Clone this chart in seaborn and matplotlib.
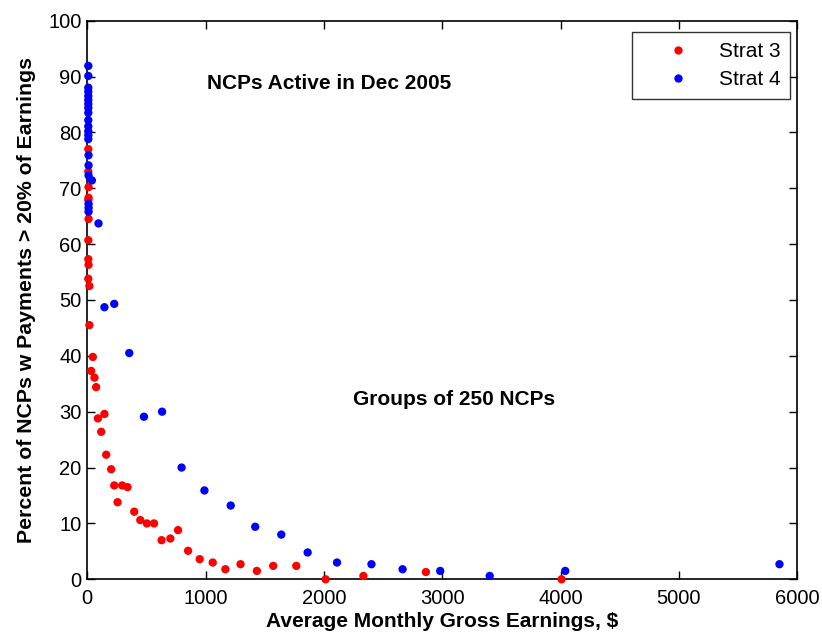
import matplotlib
matplotlib.use("Agg")
import matplotlib.pyplot as plt
import seaborn as sns
import pandas as pd

# Strat 3: average monthly gross earnings ($) vs. percent with payments > 20% of earnings
strat3_x = [10, 10, 12, 12, 10, 12, 10, 10, 12, 10, 19,
            19, 48, 34, 62, 76, 91, 146, 119, 161, 203, 229, 296, 341, 257,
            398, 449, 505, 565, 629, 703, 768, 853, 951, 1061, 1168, 1296,
            1434, 1572, 1767, 2015, 2334, 2862, 4008]
strat3_y = [77.0, 73.0, 70.2, 68.3, 67.9, 64.5, 60.7, 57.3, 56.3, 53.8, 52.5,
            45.5, 39.8, 37.3, 36.1, 34.4, 28.8, 29.6, 26.4, 22.3, 19.7, 16.8, 16.8, 16.5, 13.8,
            12.1, 10.6, 10.0, 10.0, 7.0, 7.3, 8.8, 5.1, 3.6, 3.0, 1.8, 2.7,
            1.5, 2.4, 2.4, 0.0, 0.6, 1.3, 0.0]

# Strat 4
strat4_x = [10, 10, 10, 10, 10, 10, 10, 10, 10, 10, 10, 10, 10, 10,
            12, 12, 12, 40, 12, 12, 12, 96,
            146, 229, 356, 480, 633, 798, 991, 1213, 1420, 1640, 1863,
            2111, 2402, 2665, 2983, 3401, 4039, 5849]
strat4_y = [91.9, 90.1, 88.0, 87.3, 86.5, 85.8, 85.1, 84.4, 83.5, 82.2, 81.1, 80.2, 79.5, 78.8,
            75.9, 74.1, 72.3, 71.4, 67.2, 66.5, 65.8, 63.7,
            48.7, 49.3, 40.5, 29.1, 30.0, 20.0, 15.9, 13.2, 9.4, 8.0, 4.8,
            3.0, 2.7, 1.8, 1.5, 0.6, 1.5, 2.7]

series_names = ["Strat 3", "Strat 4"]
x_ticks = [0, 1000, 2000, 3000, 4000, 5000, 6000]
y_ticks = [0, 10, 20, 30, 40, 50, 60, 70, 80, 90, 100]

df = pd.DataFrame({
    "earnings": strat3_x + strat4_x,
    "percent": strat3_y + strat4_y,
    "group": [series_names[0]] * len(strat3_x) + [series_names[1]] * len(strat4_x),
})

sns.set_style("ticks")
plt.rcParams["font.family"] = ["Liberation Sans", "DejaVu Sans"]
plt.rcParams["text.color"] = "black"
plt.rcParams["axes.labelcolor"] = "black"

fig = plt.figure(figsize=(8.22, 6.37), dpi=100)
ax = fig.add_axes([0.106, 0.0906, 0.864, 0.877])

sns.scatterplot(data=df, x="earnings", y="percent", hue="group",
                palette={"Strat 3": "#ff0000", "Strat 4": "#0000ff"},
                s=36, linewidth=0, ax=ax, clip_on=False, zorder=3)

ax.set_xlim(0, 6000)
ax.set_ylim(0, 100)
ax.set_xticks(x_ticks)
ax.set_yticks(y_ticks)
ax.tick_params(direction="in", length=6, width=1, top=True, right=True,
               labelsize=14.5, colors="black")
ax.tick_params(axis="x", pad=7)
ax.tick_params(axis="y", pad=4)
for side in ["top", "right", "bottom", "left"]:
    ax.spines[side].set_visible(True)
    ax.spines[side].set_linewidth(1.2)
    ax.spines[side].set_color("black")

ax.set_xlabel("Average Monthly Gross Earnings, $", fontsize=15,
              fontweight="bold", labelpad=3)
ax.set_ylabel("Percent of NCPs w Payments > 20% of Earnings", fontsize=15.3,
              fontweight="bold", labelpad=9)

ax.text(1010, 88.7, "NCPs Active in Dec 2005", fontsize=15, fontweight="bold",
        va="center", ha="left")
ax.text(2245, 32.1, "Groups of 250 NCPs", fontsize=15, fontweight="bold",
        va="center", ha="left")

leg = ax.legend(loc="upper right", bbox_to_anchor=(0.990, 0.980), fontsize=15,
                frameon=True, fancybox=False, edgecolor="black",
                handletextpad=0.2, borderpad=0.48, labelspacing=0.45,
                handlelength=3.5, markerscale=1.0, borderaxespad=0)
leg.get_frame().set_linewidth(1.0)

fig.savefig("out.png", dpi=100)
